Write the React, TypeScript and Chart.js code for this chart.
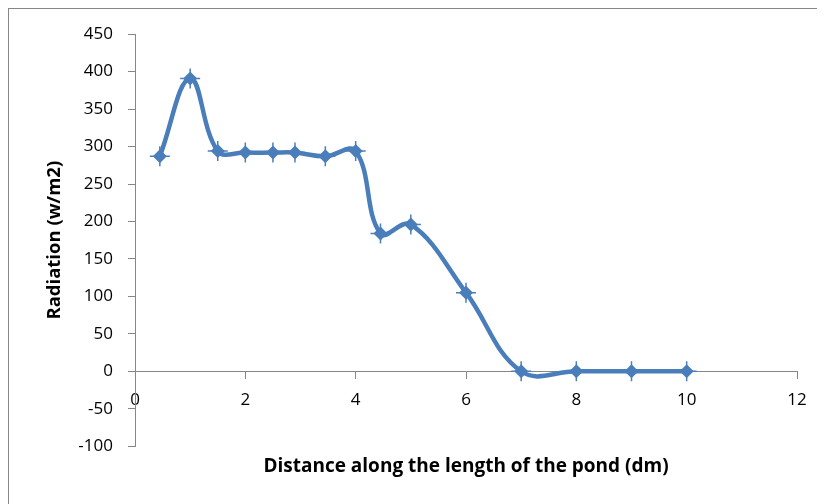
import React, { useEffect, useRef } from "react";
import { Chart, registerables } from "chart.js";

Chart.register(...registerables);

const distances = [0.45, 1, 1.5, 2, 2.5, 2.9, 3.45, 4, 4.45, 5, 6, 7, 8, 9, 10];
const radiation = [287, 391, 294, 292, 292, 292, 287, 294, 184, 196, 105, 0, 0, 0, 0];
const xTitle = "Distance along the length of the pond (dm)";
const yTitle = "Radiation (w/m2)";

const FONT = "'Open Sans', 'Liberation Sans', sans-serif";
const BLUE = "#4A7EBB";
const AXIS = "#868686";

export default function App() {
  const ref = useRef<HTMLCanvasElement | null>(null);

  useEffect(() => {
    if (!ref.current) return;
    const pts = distances.map((x, i) => ({ x, y: radiation[i] }));
    const chart = new Chart(ref.current, {
      type: "line",
      data: {
        datasets: [
          {
            data: pts,
            borderColor: BLUE,
            backgroundColor: BLUE,
            borderWidth: 4.5,
            tension: 0.4,
            pointStyle: "rectRot",
            pointRadius: 7,
            pointBorderWidth: 0,
            pointBackgroundColor: BLUE,
          },
          {
            data: pts,
            showLine: false,
            pointStyle: "cross",
            pointRadius: 10,
            pointBorderWidth: 1.5,
            pointBorderColor: BLUE,
            borderColor: BLUE,
          },
        ],
      },
      options: {
        responsive: false,
        animation: false,
        events: [],
        layout: { padding: { top: 24, right: 28, bottom: 26, left: 0 } },
        plugins: {
          legend: { display: false },
          tooltip: { enabled: false },
          title: {
            display: true,
            text: xTitle,
            position: "bottom",
            fullSize: false,
            color: "#000",
            font: { family: FONT, size: 19, weight: "bold" },
            padding: { top: 9, bottom: 0 },
          },
        },
        scales: {
          x: {
            type: "linear",
            min: 0,
            max: 12,
            position: { y: 0 } as any,
            ticks: {
              stepSize: 2,
              color: "#000",
              font: { family: FONT, size: 17 },
              padding: 12,
            },
            grid: { drawOnChartArea: false, tickLength: 7, color: AXIS },
            border: { color: AXIS, width: 1 },
          },
          y: {
            type: "linear",
            min: -100,
            max: 450,
            ticks: {
              stepSize: 50,
              color: "#000",
              font: { family: FONT, size: 17 },
              padding: 15,
            },
            grid: { drawOnChartArea: false, tickLength: 7, color: AXIS },
            border: { color: AXIS, width: 1 },
            title: {
              display: true,
              text: yTitle,
              color: "#000",
              font: { family: FONT, size: 18.5, weight: "bold" },
              padding: { top: 35, bottom: 0 },
            },
            afterFit: (s: any) => {
              s.width = 126;
            },
          },
        },
      },
    });
    return () => chart.destroy();
  }, []);

  return (
    <div
      style={{
        width: 817,
        height: 496,
        boxSizing: "border-box",
        borderLeft: `1px solid ${AXIS}`,
        borderTop: `1px solid ${AXIS}`,
        background: "#fff",
      }}
    >
      <canvas ref={ref} width={816} height={495} style={{ display: "block" }} />
    </div>
  );
}
